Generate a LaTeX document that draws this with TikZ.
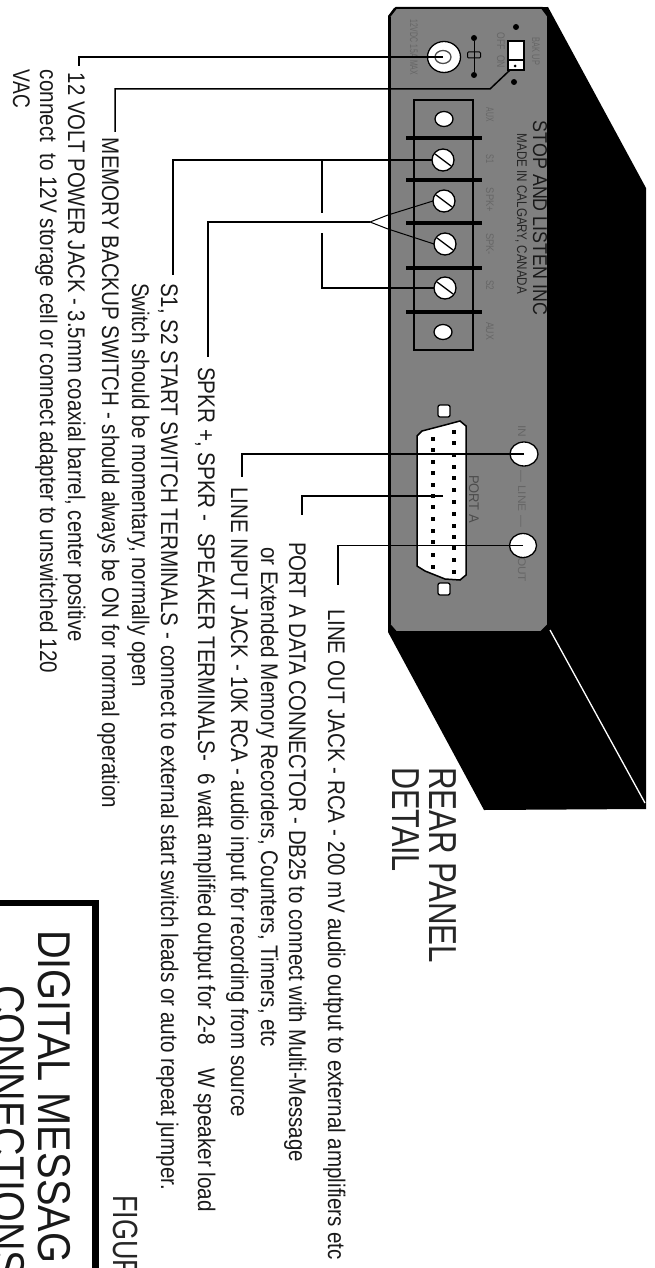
\documentclass[tikz,border=0pt]{standalone}
\usepackage{fontspec}
\usepackage{graphicx}
\setmainfont{Liberation Sans}
\usetikzlibrary{shapes.geometric}
\newcommand{\lenbox}[2]{\resizebox{#1pt}{\height}{#2}}
\definecolor{panelgrey}{HTML}{808080}
\definecolor{silk}{HTML}{666666}
\tikzset{
  rtext/.style={rotate=-90,anchor=base west,inner sep=0pt,outer sep=0pt,text=black},
  capt/.style={rtext,font=\fontsize{24}{24}\selectfont,text=black!90},
  head/.style={rtext,font=\fontsize{39}{39}\selectfont,text=black!85},
  figlab/.style={rtext,font=\fontsize{35}{35}\selectfont,text=black!85},
  titletext/.style={rtext,font=\fontsize{46}{46}\selectfont,text=black!90},
  silkbig/.style={rtext,font=\fontsize{20}{20}\selectfont,text=black!90},
  silkmid/.style={rtext,font=\fontsize{14}{14}\selectfont,text=black!85},
  silksmall/.style={rtext,font=\fontsize{11}{11}\selectfont,text=silk},
  wire/.style={draw=black,line width=1.5pt,line join=miter},
  thinwire/.style={draw=black,line width=1pt},
  jackbody/.style={ellipse,draw=black,line width=1.3pt,fill=white,inner sep=0pt,outer sep=0pt},
  screwbody/.style={jackbody,minimum width=22pt,minimum height=22pt},
  holebody/.style={jackbody,minimum width=18pt,minimum height=15pt},
  mounthole/.style={rectangle,rounded corners=2pt,draw=black,line width=1.3pt,fill=white,inner sep=0pt,outer sep=0pt,minimum width=12pt,minimum height=12pt},
  bar/.style={draw=black,line width=4.5pt},
  pin/.style={rectangle,fill=black,inner sep=0pt,minimum width=4pt,minimum height=4pt},
  blackdot/.style={circle,fill=black,inner sep=0pt,minimum size=6pt},
}
\begin{document}
\begin{tikzpicture}[x=1pt,y=-1pt]
\useasboundingbox (0,0) rectangle (654,1268);
\clip (0,0) rectangle (654,1268);
\fill[white] (0,0) rectangle (654,1268);

% cabinet
\fill[black] (394,8) -- (548,7) -- (646,188) -- (646,809) -- (484,810) -- (388,632) -- (388,16) -- cycle;
\draw[white,line width=1.3pt] (550,630) -- (645,803);
\filldraw[fill=panelgrey,draw=black,line width=2pt] (396,8) -- (542,8) -- (548,16) -- (548,625) -- (541,632) -- (396,632) -- (389,624) -- (389,17) -- cycle;
\draw[black,line width=3pt] (389,17) -- (389,624);

% silk screen
\node[silkbig] (brand) at (533,121) {\lenbox{194}{STOP AND LISTEN INC}};
\node[silkmid] (made) at (517,134) {\lenbox{160}{MADE IN CALGARY, CANADA}};
\node[silksmall] (lpow) at (410,20) {\lenbox{55}{12VDC 1.5A MAX}};
\node[silksmall] (lbak) at (532,38) {\lenbox{27}{BAK UP}};
\node[silksmall] (lonoff) at (497,33) {\lenbox{35}{OFF \ ON}};
\node[silksmall] (la1) at (486,108) {\lenbox{14}{AUX}};
\node[silksmall] (ls1) at (486,155) {\lenbox{9}{S1}};
\node[silksmall] (lsp) at (486,188) {\lenbox{24}{SPK+}};
\node[silksmall] (lsm) at (486,233) {\lenbox{22}{SPK-}};
\node[silksmall] (ls2) at (486,280) {\lenbox{10}{S2}};
\node[silksmall] (la2) at (486,322) {\lenbox{18}{AUX}};
\node[silksmall] (lin) at (518,425) {\lenbox{12}{IN}};
\node[silksmall] (lline) at (518,470) {\lenbox{57}{--- LINE ---}};
\node[silksmall] (lout) at (518,557) {\lenbox{25}{OUT}};
\node[silkmid,text=black!70] (lport) at (469,475) {\lenbox{48}{PORT A}};

% power jack, polarity mark, switch
\node[jackbody,minimum width=33pt,minimum height=31pt] (pj) at (444,57) {};
\node[ellipse,draw=black!70,line width=1.3pt,fill=white,inner sep=0pt,minimum width=16pt,minimum height=13pt] (pjin) at (443,57) {};
\node[blackdot] (pa) at (474,38) {};
\node[blackdot] (pb) at (474,75) {};
\node[rectangle,rounded corners=1pt,draw=black,line width=1pt,inner sep=0pt,minimum width=13pt,minimum height=6pt] (pbox) at (474,55) {};
\draw[thinwire] (pa) -- (pb);
\node[rectangle,draw=black,line width=1.5pt,fill=white,inner sep=0pt,minimum width=16pt,minimum height=29pt] (sw) at (516,55.5) {};
\draw[black,line width=2.2pt] (sw.west |- 0,60) -- (sw.east |- 0,60);
\node[blackdot,minimum size=3pt] (swd) at (515,66) {};
\node[blackdot] (d1) at (516,27) {};
\node[blackdot] (d2) at (514,82) {};

% terminal strip
\node[rectangle,draw=black,line width=1.5pt,inner sep=0pt,minimum width=59pt,minimum height=250pt] (strip) at (443.5,225) {};
\coordinate (b1a) at (406,138); \coordinate (b1b) at (482,138);
\coordinate (b2a) at (406,180); \coordinate (b2b) at (482,180);
\coordinate (b3a) at (406,223); \coordinate (b3b) at (482,223);
\coordinate (b4a) at (406,268); \coordinate (b4b) at (482,268);
\coordinate (b5a) at (406,312); \coordinate (b5b) at (482,312);
\draw[bar] (b1a) -- (b1b);
\draw[bar] (b2a) -- (b2b);
\draw[bar] (b3a) -- (b3b);
\draw[bar] (b4a) -- (b4b);
\draw[bar] (b5a) -- (b5b);
\node[holebody] (h1) at (444,119) {};
\node[holebody] (h2) at (443,332) {};
\node[screwbody] (s1) at (443,160) {};
\node[screwbody] (s2) at (444,201) {};
\node[screwbody] (s3) at (445,244) {};
\node[screwbody] (s4) at (445,288) {};
\foreach \s in {s1,s2,s3,s4} \draw[black,line width=1.3pt] (\s.center) ++(-8,-6) -- ++(16,12);

% DB25
\filldraw[fill=white,draw=black,line width=1.5pt] (417,436) -- (422,431) -- (445,425) -- (460,421) -- (466,426) -- (466,575) -- (460,580) -- (445,579) -- (425,571) -- (417,566) -- cycle;
\foreach \y [count=\i] in {432,443,455,467,478,490,502,514,526,537,548,560,572} \node[pin] (pr\i) at (454,\y) {};
\foreach \y [count=\i] in {439,450,462,473,485,496,507,519,531,542,555,567} \node[pin] (pl\i) at (433,\y) {};
\node[mounthole] (m1) at (444,411) {};
\node[mounthole] (m2) at (444,589) {};
\coordinate (portin) at (443,496);

% RCA jacks
\node[jackbody,minimum width=28pt,minimum height=24pt] (jin) at (524,454) {};
\node[jackbody,minimum width=27pt,minimum height=24pt] (jout) at (523,545.5) {};

% connector ends and text
\coordinate (e12) at (79,66);
\coordinate (emem) at (115,132);
\coordinate (swa) at (510,70);
\coordinate (swb) at (490,89);
\coordinate (es1) at (173,275);
\coordinate (bj) at (322,161);
\coordinate (gapa) at (322,213);
\coordinate (gapb) at (322,233);
\coordinate (bjb) at (322,288);
\coordinate (tip) at (370,222);
\coordinate (fa) at (388,215);
\coordinate (fb) at (388,229);
\coordinate (espk) at (208,357);
\coordinate (ein) at (242,477);
\coordinate (eport) at (302,515);
\coordinate (eout) at (338,585);

\draw[wire] (pjin.center) -| (e12);
\draw[wire] (swa) -- (swb) -| (emem);
\draw[wire] (s1.west) -| (es1);
\draw[wire] (bj) -- (gapa);
\draw[wire] (gapb) -- (bjb) -- (s4.west);
\draw[wire] (tip) -| (espk);
\draw[thinwire] (s2.west) -- (fa) -- (tip) -- (fb) -- (s3.west);
\draw[wire] (jin.center) -| (ein);
\draw[wire] (portin) -| (eport);
\draw[wire] (jout.center) -| (eout);

\node[capt] (t12) at (68,73) {\lenbox{569}{12 VOLT POWER JACK - 3.5mm coaxial barrel, center positive}};
\node[capt] (t12b) at (40,70) {\lenbox{603}{connect \ to 12V storage cell or connect adapter to unswitched 120}};
\node[capt] (t12c) at (13,70) {\lenbox{38}{VAC}};
\node[capt] (tmem) at (102,138) {\lenbox{670}{MEMORY BACKUP SWITCH - should always be ON for normal operation}};
\node[capt] (ts1) at (161,283) {\lenbox{907}{S1, S2 START SWITCH TERMINALS - connect to external start switch leads or auto repeat jumper.}};
\node[capt] (ts1b) at (132,283) {\lenbox{404}{Switch should be momentary, normally open}};
\node[capt] (tspk) at (198,367) {\lenbox{845}{SPKR +, SPKR - \ SPEAKER TERMINALS- \ 6 watt amplified output for 2-8 \ \ \ W speaker load}};
\node[capt] (tin) at (231,487) {\lenbox{630}{LINE INPUT JACK - 10K RCA - audio input for recording from source}};
\node[capt] (tport) at (289,542) {\lenbox{620}{PORT A DATA CONNECTOR - DB25 to connect with Multi-Message}};
\node[capt] (tportb) at (261,547) {\lenbox{500}{or Extended Memory Recorders, Counters, Timers, etc}};
\node[capt] (tout) at (328,609) {\lenbox{651}{LINE OUT JACK - RCA - 200 mV audio output to external amplifiers etc}};

\node[head] (rear) at (429,767) {\lenbox{196}{REAR PANEL}};
\node[head] (detail) at (392,767) {\lenbox{105}{DETAIL}};

% title block
\coordinate (ba) at (-10,903);
\coordinate (bb) at (95.5,903);
\coordinate (bc) at (95.5,1280);
\draw[black,line width=6.5pt,line join=miter] (ba) -- (bb) -- (bc);
\node[figlab] (fig) at (113,1195) {\lenbox{84}{FIGUR}};
\node[titletext] (tt1) at (38,930) {\lenbox{333}{DIGITAL MESSAG}};
\node[titletext] (tt2) at (-7,985) {\lenbox{292}{CONNECTIONS}};
\end{tikzpicture}
\end{document}
